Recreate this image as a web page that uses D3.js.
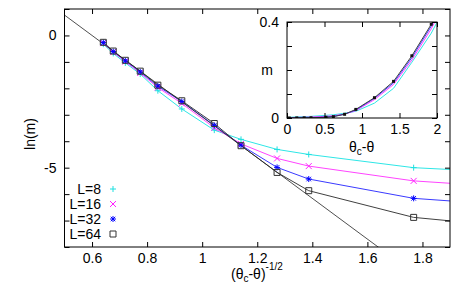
<!DOCTYPE html>
<html>
<head>
<meta charset="utf-8">
<script src="https://cdn.jsdelivr.net/npm/d3@7"></script>
<style>
  body { margin: 0; background: #fff; }
  svg { font-family: "Liberation Sans", Arial, sans-serif; }
  .axis path { display: none; }
  .axis line { stroke: #000; }
  .axis text { font-size: 14px; fill: #000; font-family: "Liberation Sans", Arial, sans-serif; }
</style>
</head>
<body>
<svg id="chart"></svg>
<script>
// (theta_c - theta)^(-1/2) values, shared by every series
const xs = [0.641, 0.677, 0.721, 0.775, 0.839, 0.926, 1.044, 1.141, 1.272, 1.387, 1.768, 2.09, 2.77, 5.77];
// ln(m) per system size
const lnL8 = [-0.33, -0.68, -1.04, -1.46, -2.09, -2.78, -3.58, -3.93, -4.31, -4.5, -5.0, -5.17, -5.4, -5.9];
const lnL16 = [-0.29, -0.63, -0.99, -1.42, -1.97, -2.57, -3.49, -4.1, -4.65, -4.94, -5.5, -5.72, -6.0, -6.6];
const lnL32 = [-0.27, -0.61, -0.96, -1.38, -1.92, -2.5, -3.4, -4.15, -4.99, -5.43, -6.16, -6.4, -6.7, -7.5];
const lnL64 = [-0.26, -0.59, -0.94, -1.35, -1.88, -2.47, -3.33, -4.17, -5.18, -5.87, -6.88, -7.2, -7.8, -9.0];
const seriesNames = ['L=8', 'L=16', 'L=32', 'L=64'];
// fitted straight line ln(m) = a + b*x
const fitA = 4.62;
const fitB = -7.70;

const mainXTicks = [0.6, 0.8, 1, 1.2, 1.4, 1.6, 1.8];
const mainYTicks = [-8, -7, -6, -5, -4, -3, -2, -1, 0, 1];
const mainYLabels = [0, -5];
const insetXTicks = [0, 0.5, 1, 1.5, 2];
const insetYTicks = [0, 0.1, 0.2, 0.3, 0.4];
const insetYLabels = [0, 0.4];

const W = 463;
const H = 292;
const styles = [
  { line: '#2ee6e6', pt: '#1fe0e0', sym: 'plus' },
  { line: '#ff44ff', pt: '#ff22ff', sym: 'cross' },
  { line: '#3a3aff', pt: '#0000ff', sym: 'star' },
  { line: '#404040', pt: '#333333', sym: 'square' },
];
const series = [lnL8, lnL16, lnL32, lnL64];

const svg = d3.select('#chart').attr('width', W).attr('height', H);

function symbolPath(type, r) {
  if (type === 'plus') return `M${-r},0H${r}M0,${-r}V${r}`;
  if (type === 'cross') return `M${-r},${-r}L${r},${r}M${-r},${r}L${r},${-r}`;
  if (type === 'star') {
    const d = r * 0.75;
    return `M${-r},0H${r}M0,${-r}V${r}M${-d},${-d}L${d},${d}M${-d},${d}L${d},${-d}`;
  }
  return `M${-r},${-r}H${r}V${r}H${-r}Z`;
}

function drawFrame(g, x, y, xTicks, yTicks, xFmt, yFmt) {
  const [x0, x1] = x.range();
  const [y0, y1] = y.range();
  g.append('g').attr('class', 'axis').attr('transform', `translate(0,${y0})`)
    .call(d3.axisBottom(x).tickValues(xTicks).tickSize(-5).tickPadding(6).tickFormat(xFmt));
  g.append('g').attr('class', 'axis').attr('transform', `translate(0,${y1})`)
    .call(d3.axisTop(x).tickValues(xTicks).tickSize(-5).tickFormat(''));
  g.append('g').attr('class', 'axis').attr('transform', `translate(${x0},0)`)
    .call(d3.axisLeft(y).tickValues(yTicks).tickSize(-5).tickPadding(8).tickFormat(yFmt));
  g.append('g').attr('class', 'axis').attr('transform', `translate(${x1},0)`)
    .call(d3.axisRight(y).tickValues(yTicks).tickSize(-5).tickFormat(''));
  g.append('rect')
    .attr('x', x0).attr('y', y1)
    .attr('width', x1 - x0).attr('height', y0 - y1)
    .attr('fill', 'none').attr('stroke', '#000').attr('stroke-width', 1);
}

// ===========================================================================
//      main plot
// ===========================================================================
const x = d3.scaleLinear().domain([0.5, 1.9]).range([64.5, 450]);
const y = d3.scaleLinear().domain([-8, 1]).range([247, 9]);

svg.append('clipPath').attr('id', 'clipMain')
  .append('rect').attr('x', 64.5).attr('y', 9).attr('width', 450 - 64.5).attr('height', 247 - 9);

const plot = svg.append('g').attr('clip-path', 'url(#clipMain)');

series.forEach(function (vals, i) {
  const pts = xs.map((v, k) => [v, vals[k]]);
  plot.append('path')
    .attr('d', d3.line().x(d => x(d[0])).y(d => y(d[1]))(pts))
    .attr('fill', 'none')
    .attr('stroke', styles[i].line)
    .attr('stroke-width', 1);
});

// fit line
const fitPts = x.domain().map(v => [v, fitA + fitB * v]);
plot.append('path')
  .attr('d', d3.line().x(d => x(d[0])).y(d => y(d[1]))(fitPts))
  .attr('fill', 'none')
  .attr('stroke', '#222')
  .attr('stroke-width', 0.8);

series.forEach(function (vals, i) {
  plot.append('g').selectAll('path')
    .data(xs.map((v, k) => [v, vals[k]]).filter(d => d[0] <= 1.9))
    .enter()
    .append('path')
    .attr('transform', d => `translate(${x(d[0])},${y(d[1])})`)
    .attr('d', symbolPath(styles[i].sym, 3))
    .attr('fill', 'none')
    .attr('stroke', styles[i].pt)
    .attr('stroke-width', 1);
});

drawFrame(svg, x, y, mainXTicks, mainYTicks,
  d => d, d => (mainYLabels.includes(d) ? d : ''));

// axis titles
svg.append('text')
  .attr('transform', 'translate(35,134) rotate(-90)')
  .attr('text-anchor', 'middle')
  .attr('font-size', 14)
  .text('ln(m)');

const xt = svg.append('text').attr('x', 231).attr('y', 279).attr('font-size', 14);
xt.append('tspan').text('(θ');
xt.append('tspan').attr('dy', 3).attr('font-size', 10).text('c');
xt.append('tspan').attr('dy', -3).text('-θ)');
xt.append('tspan').attr('dy', -9).attr('font-size', 10).text('-1/2');

// legend
const legend = svg.append('g');
seriesNames.forEach(function (name, i) {
  const ly = 189 + i * 15;
  legend.append('text')
    .attr('x', 101).attr('y', ly + 5)
    .attr('text-anchor', 'end')
    .attr('font-size', 14)
    .text(name);
  legend.append('path')
    .attr('transform', `translate(113,${ly})`)
    .attr('d', symbolPath(styles[i].sym, 3))
    .attr('fill', 'none')
    .attr('stroke', styles[i].pt)
    .attr('stroke-width', 1);
});

// ===========================================================================
//      inset: m against theta_c - theta
// ===========================================================================
const ix = d3.scaleLinear().domain([0, 2]).range([287, 437]);
const iy = d3.scaleLinear().domain([0, 0.4]).range([118, 22]);

svg.append('rect')
  .attr('x', 287).attr('y', 22).attr('width', 150).attr('height', 96)
  .attr('fill', '#fff');

svg.append('clipPath').attr('id', 'clipInset')
  .append('rect').attr('x', 287).attr('y', 22).attr('width', 150).attr('height', 96);

const inset = svg.append('g').attr('clip-path', 'url(#clipInset)');

series.forEach(function (vals, i) {
  const pts = xs.map((v, k) => [1 / (v * v), Math.exp(vals[k])]);
  inset.append('path')
    .attr('d', d3.line().x(d => ix(d[0])).y(d => iy(d[1]))(pts))
    .attr('fill', 'none')
    .attr('stroke', styles[i].line)
    .attr('stroke-width', 1);
  if (i === 3) {
    inset.append('g').selectAll('rect')
      .data(pts)
      .enter()
      .append('rect')
      .attr('x', d => ix(d[0]) - 1.5)
      .attr('y', d => iy(d[1]) - 1.5)
      .attr('width', 3)
      .attr('height', 3)
      .attr('fill', '#111');
  }
});

drawFrame(svg, ix, iy, insetXTicks, insetYTicks,
  d => d, d => (insetYLabels.includes(d) ? d : ''));

svg.append('text')
  .attr('x', 267).attr('y', 75)
  .attr('text-anchor', 'middle')
  .attr('font-size', 14)
  .text('m');

const it = svg.append('text').attr('x', 349).attr('y', 152).attr('font-size', 14);
it.append('tspan').text('θ');
it.append('tspan').attr('dy', 3).attr('font-size', 10).text('c');
it.append('tspan').attr('dy', -3).text('-θ');
</script>
</body>
</html>
